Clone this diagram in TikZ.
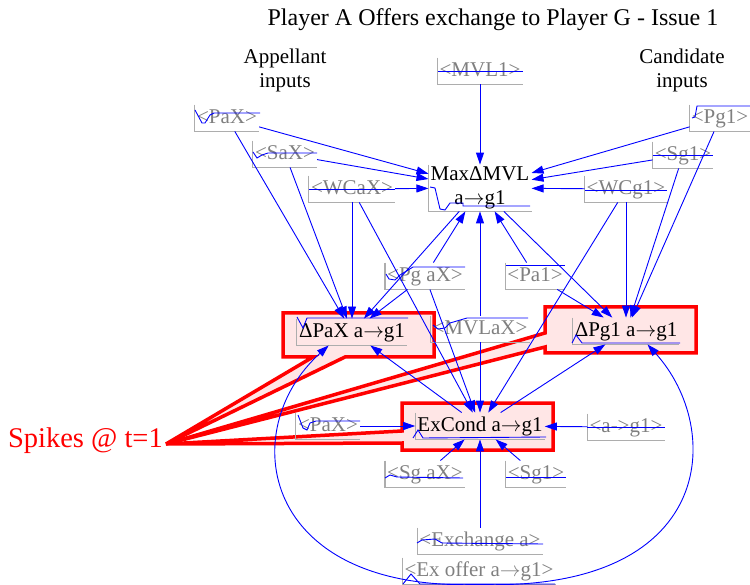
\documentclass[tikz,border=0pt]{standalone}
\usepackage{fontspec}
\setmainfont{Liberation Serif}
\usetikzlibrary{arrows.meta}
\definecolor{vblue}{HTML}{0000FF}
\definecolor{vred}{HTML}{FF0000}
\definecolor{shade}{HTML}{FFE6E6}
\definecolor{shadowtext}{HTML}{808080}
\definecolor{axisgray}{HTML}{ADADAD}
\newcommand{\tog}{\ensuremath{\rightarrow}}
\tikzset{
  var/.style={inner xsep=2pt, inner ysep=3.5pt, text height=15pt, text depth=4.5pt},
  shadow/.style={var, text=shadowtext},
  link/.style={vblue, line width=0.9pt, -{Triangle[length=12pt,width=8pt]}},
  spark/.style={vblue, line width=0.9pt},
  axis/.style={axisgray, line width=1.2pt},
  callout/.style={vred, line width=3.5pt, fill=shade},
}

\begin{document}
\begin{tikzpicture}[x=1pt, y=-1pt, font=\fontsize{21}{24}\selectfont]
\useasboundingbox (0,0) rectangle (750,585);
\node[font=\fontsize{24}{26}\selectfont] (title) at (493,20) {Player A Offers exchange to Player G - Issue 1};
\node[align=center] (appl) at (285,70) {Appellant\\inputs};
\node[align=center] (cand) at (682,70) {Candidate\\inputs};
\node[text=vred, font=\fontsize{28.5}{31}\selectfont, inner sep=0pt, anchor=east] (spikes) at (163,441) {Spikes @ t=1};
\coordinate (tip) at (166,444);

% highlighted variables
\draw[callout] (283,313) -- (434,313) -- (434,357) -- (345,357) -- (tip) -- (313,357) -- (283,357) -- cycle;
\draw[callout] (545,307) -- (696,307) -- (696,353) -- (545,353) -- (545,347) -- (tip) -- (545,333) -- cycle;
\draw[callout] (402,403) -- (553,403) -- (553,450) -- (402,450) -- (402,443) -- (tip) -- (402,431) -- cycle;

\node[shadow] (PaXa) at (227,118) {<PaX>};
\node[shadow] (SaX) at (285,154) {<SaX>};
\node[shadow] (WCaX) at (352,189) {<WCaX>};
\node[shadow] (MVL1) at (480,71) {<MVL1>};
\node[var, align=center, text height=, text depth=, inner ysep=2pt] (Max) at (480,188) {MaxΔMVL\\a\tog g1};
\node[shadow] (Pg1) at (720,118) {<Pg1>};
\node[shadow] (Sg1a) at (683,155) {<Sg1>};
\node[shadow] (WCg1) at (626,189) {<WCg1>};
\node[shadow] (PgaX) at (425,276) {<Pg aX>};
\node[shadow] (Pa1) at (535,276) {<Pa1>};
\node[var] (dPaX) at (352,332) {ΔPaX a\tog g1};
\node[shadow] (MVLaX) at (480,329) {<MVLaX>};
\node[var] (dPg1) at (626,331) {ΔPg1 a\tog g1};
\node[var] (ExCond) at (480,426) {ExCond a\tog g1};
\node[shadow] (PaXb) at (328,426) {<PaX>};
\node[shadow] (ag1) at (626,427) {<a->g1>};
\node[shadow] (SgaX) at (425,474) {<Sg aX>};
\node[shadow] (Sg1b) at (536,474) {<Sg1>};
\node[shadow] (Exch) at (480,541) {<Exchange a>};
\node[shadow] (ExOff) at (479,571) {<Ex offer a\tog g1>};

\foreach \n in {PaXa,SaX,WCaX,MVL1,Max,Pg1,Sg1a,WCg1,PgaX,Pa1,dPaX,MVLaX,dPg1,ExCond,PaXb,ag1,SgaX,Sg1b,Exch,ExOff}
  \draw[axis] (\n.north west) |- (\n.south east);

% sparklines
\draw[spark] (195,110) -- (202,123) -- (205,123) -- (210,115) -- (214,113) -- (260,113);
\draw[spark] (253,152) -- (257,158) -- (262,155) -- (268,153) -- (317,153);
\draw[spark] (309,189) -- (395,189);
\draw[spark] (438,71) -- (523,71);
\draw[spark] (430,187) -- (435,188) -- (440,209) -- (445,210) -- (450,203) -- (463,203) -- (463,206) -- (530,206);
\draw[spark] (692,118) -- (695,117) -- (697,106) -- (750,106);
\draw[spark] (653,155) -- (713,155);
\draw[spark] (585,190) -- (667,190);
\draw[spark] (386,274) -- (389,279) -- (395,280) -- (400,275) -- (413,267) -- (465,267);
\draw[spark] (506,265) -- (565,265);
\draw[spark] (433,325) -- (438,329) -- (445,328) -- (450,323) -- (467,318) -- (528,318);
\draw[spark] (297,317) -- (303,328) -- (307,318) -- (408,318);
\draw[spark] (572,343) -- (576,335) -- (582,343) -- (680,343);
\draw[spark] (413,438) -- (418,430) -- (423,438) -- (546,437);
\draw[spark] (298,415) -- (303,428) -- (307,430) -- (310,423) -- (316,421) -- (360,421);
\draw[spark] (587,427) -- (665,427);
\draw[spark] (385,478) -- (390,475) -- (397,477) -- (463,478);
\draw[spark] (506,477) -- (566,477);
\draw[spark] (417,543) -- (422,540) -- (435,539) -- (442,543) -- (543,544);
\draw[spark] (403,584) -- (411,574) -- (420,584) -- (555,584);

\foreach \s in {MVL1,PaXa,SaX,WCaX,Pg1,Sg1a,WCg1,PgaX,MVLaX,Pa1} \draw[link] (\s) -- (Max);
\foreach \s in {PaXa,SaX,WCaX,PgaX,Max,ExCond} \draw[link] (\s) -- (dPaX);
\foreach \s in {Max,Pa1,WCg1,Sg1a,Pg1,ExCond} \draw[link] (\s) -- (dPg1);
\foreach \s in {WCaX,PgaX,MVLaX,WCg1,PaXb,ag1,SgaX,Sg1b,Exch} \draw[link] (\s) -- (ExCond);
\draw[link] (ExOff.south) .. controls (260,592) and (235,430) .. (dPaX.-150);
\draw[link] (ExOff.south) .. controls (715,592) and (725,430) .. (dPg1.-32);
\end{tikzpicture}
\end{document}
